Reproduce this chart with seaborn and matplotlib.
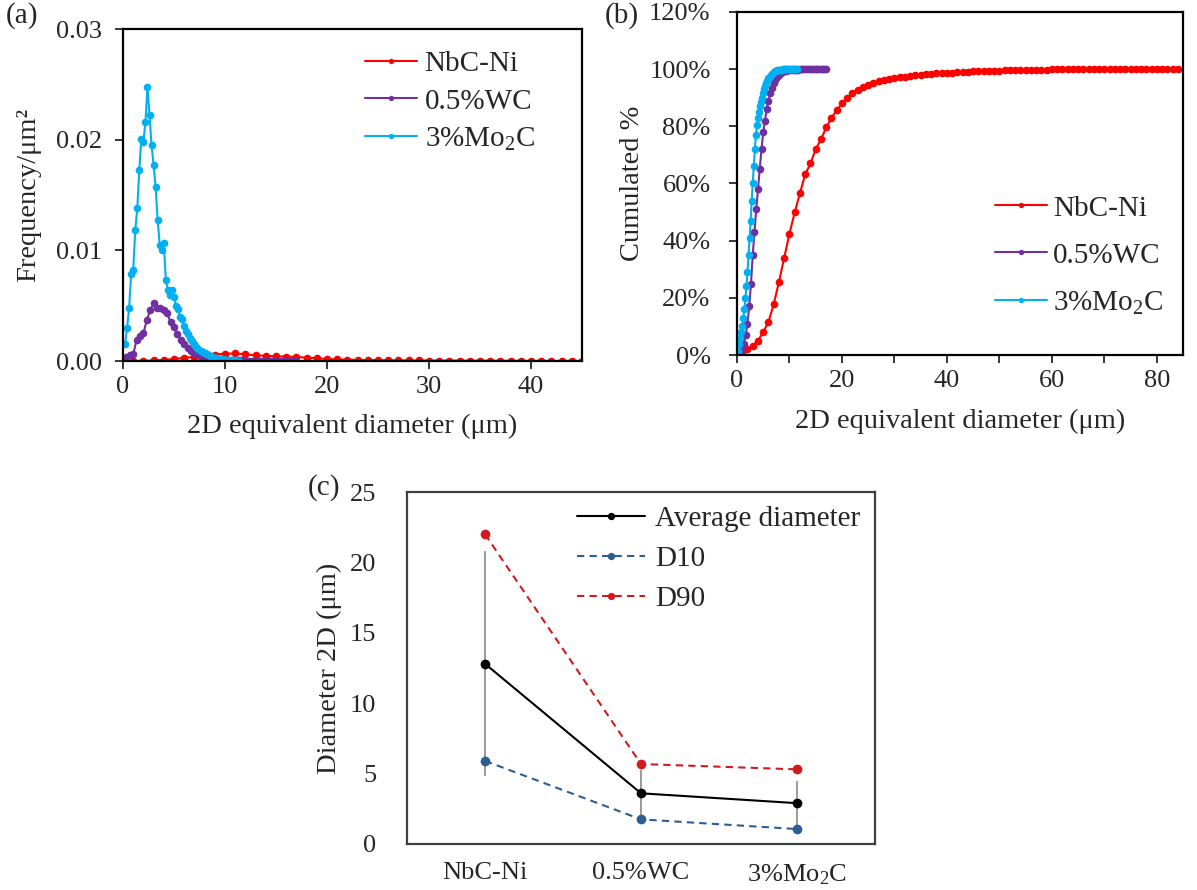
import numpy as np
import pandas as pd
import matplotlib
matplotlib.use("Agg")
import matplotlib.pyplot as plt
import seaborn as sns
from matplotlib.ticker import FuncFormatter, MultipleLocator

# ============================================
# DATA
# ============================================

# NbC-Ni : 1 um bins
red_x = list(range(1, 46))
red_freq = [0.0, 0.00002, 0.00005, 0.0001, 0.00018, 0.00028, 0.00038, 0.00048, 0.00058, 0.00066,
            0.00068, 0.0006, 0.00052, 0.00046, 0.00042, 0.0004, 0.00036, 0.0003, 0.00025, 0.00018,
            0.00015, 0.00012, 0.0001, 0.00009, 0.00008, 0.00007, 0.00006, 0.00005, 0.00005, 0.00004,
            0.00004, 0.00004, 0.00003, 0.00003, 0.00003, 0.00002, 0.00002, 0.00002, 0.00002, 0.00001,
            0.00001, 0.00001, 0.00001, 0.00001, 0.00001]
red_cum_x = list(range(1, 85))
red_cum = [0.8, 2.0, 3.3, 5.0, 8.0, 11.6, 17.8, 25.6, 34.1, 42.5,
           49.9, 56.7, 63.2, 67.0, 72.0, 75.4, 79.6, 83.0, 85.6, 88.0,
           90.0, 91.5, 92.8, 93.8, 94.6, 95.2, 95.7, 96.1, 96.5, 96.8,
           97.1, 97.4, 97.6, 97.8, 98.0, 98.2, 98.3, 98.5, 98.6, 98.7,
           98.8, 98.9, 99.0, 99.1, 99.2, 99.3, 99.35, 99.4, 99.45, 99.5,
           99.55, 99.6, 99.65, 99.7, 99.75, 99.8, 99.82, 99.85, 99.87, 99.9,
           99.9, 99.91, 99.92, 99.93, 99.94, 99.95, 99.95, 99.96, 99.96, 99.97,
           99.97, 99.98, 99.98, 99.98, 99.99, 99.99, 99.99, 99.99, 100, 100,
           100, 100, 100, 100]

# 0.5%WC : 1/3 um bins
wc_x = [0.33, 0.67, 1.0, 1.33, 1.67, 2.0, 2.33, 2.67, 3.0, 3.33,
        3.67, 4.0, 4.33, 4.67, 5.0, 5.33, 5.67, 6.0, 6.33, 6.67,
        7.0, 7.33, 7.67, 8.0, 8.33, 8.67, 9.0, 9.33, 9.67, 10.0,
        10.33, 10.67, 11.0, 11.33, 11.67, 12.0, 12.33, 12.67, 13.0, 13.33,
        13.67, 14.0, 14.33, 14.67, 15.0, 15.33, 15.67, 16.0, 16.33, 16.67, 17.0]
wc_freq = [0.0004, 0.0005, 0.0006, 0.0019, 0.0023, 0.0025, 0.0037, 0.0046, 0.0052, 0.0048,
           0.0048, 0.0046, 0.0043, 0.0035, 0.0031, 0.0024, 0.0019, 0.0015, 0.0012, 0.0009,
           0.0007, 0.0006, 0.0004, 0.0003, 0.0002, 0.0002, 0.00015, 0.0001, 0.0001, 0.0001,
           0.00008, 0.00008, 0.00006, 0.00006, 0.00005, 0.00005, 0.00004, 0.00004, 0.00003, 0.00003,
           0.00003, 0.00002, 0.00002, 0.00002, 0.00002, 0.00001, 0.00001, 0.00001, 0.00001, 0.00001, 0.00001]
wc_cum = [0.5, 1.0, 2.0, 4.0, 7.0, 11, 17, 25, 35, 43,
          51, 58, 65, 72, 78, 82, 86, 89, 91.5, 93.5,
          95, 96.3, 97.3, 98, 98.6, 99, 99.3, 99.5, 99.6, 99.7,
          99.75, 99.8, 99.82, 99.85, 99.87, 99.9, 99.92, 99.93, 99.94, 99.95,
          99.96, 99.97, 99.97, 99.98, 99.98, 99.99, 99.99, 99.99, 100, 100, 100]

# 3%Mo2C : 0.2 um bins
mo_x = [0.2, 0.4, 0.6, 0.8, 1.0, 1.2, 1.4, 1.6, 1.8, 2.0,
        2.2, 2.4, 2.6, 2.8, 3.0, 3.2, 3.4, 3.6, 3.8, 4.0,
        4.2, 4.4, 4.6, 4.8, 5.0, 5.2, 5.4, 5.6, 5.8, 6.0,
        6.2, 6.4, 6.6, 6.8, 7.0, 7.2, 7.4, 7.6, 7.8, 8.0,
        8.2, 8.4, 8.6, 8.8, 9.0, 9.2, 9.4, 9.6, 9.8, 10.0,
        10.2, 10.4, 10.6, 10.8, 11.0, 11.2, 11.4]
mo_freq = [0.0015, 0.003, 0.0048, 0.0079, 0.0082, 0.0118, 0.0138, 0.0173, 0.0201, 0.0198,
           0.0216, 0.0248, 0.0222, 0.0195, 0.0177, 0.0157, 0.0127, 0.0105, 0.01, 0.0107,
           0.0073, 0.0064, 0.006, 0.0064, 0.0058, 0.005, 0.0047, 0.004, 0.0038, 0.0032,
           0.0027, 0.0024, 0.0021, 0.0018, 0.0015, 0.0013, 0.0011, 0.0009, 0.0008, 0.0007,
           0.0006, 0.0005, 0.0004, 0.0004, 0.0003, 0.0003, 0.0002, 0.0002, 0.0002, 0.0001,
           0.0001, 0.0001, 0.0001, 0.00005, 0.00005, 0.00003, 0.00003]
mo_cum = [1.5, 4, 6, 8, 10, 13, 16, 20, 24, 29,
          35, 41, 47, 54, 60, 66, 72, 77, 80.5, 83,
          85, 87, 88.5, 90, 91.5, 93, 94, 95, 96, 96.8,
          97.4, 98, 98.4, 98.8, 99.1, 99.3, 99.5, 99.6, 99.7, 99.75,
          99.8, 99.85, 99.88, 99.9, 99.92, 99.94, 99.95, 99.96, 99.97, 99.98,
          99.98, 99.99, 99.99, 100, 100, 100, 100]

# panel (c)
materials = ['NbC-Ni', '0.5%WC', '3%Mo$_2$C']
avg_diam = [12.8, 3.6, 2.9]
avg_err = [8.0, 1.65, 1.6]
d10 = [5.9, 1.75, 1.06]
d90 = [22.0, 5.68, 5.3]

labels = ['NbC-Ni', '0.5%WC', '3%Mo$_2$C']
colors = ['#FF0000', '#7030A0', '#00B0F0']

# ============================================
# STYLE
# ============================================

sns.set_style("ticks")
plt.rcParams['font.family'] = ['Liberation Serif', 'DejaVu Serif']
plt.rcParams['mathtext.fontset'] = 'custom'
plt.rcParams['mathtext.rm'] = 'Liberation Serif'
plt.rcParams['mathtext.it'] = 'Liberation Serif:italic'

TICK = 19
LAB = 20.5
LEG = 21

fig = plt.figure(figsize=(11.97, 8.9), dpi=100)
W, H = 1197, 890


def rect(l, t, r, b):
    return [l / W, 1 - b / H, (r - l) / W, (b - t) / H]


def frame(ax, color='black', lw=1.6):
    for s in ax.spines.values():
        s.set_visible(True)
        s.set_color(color)
        s.set_linewidth(lw)


# ============================================
# (a) FREQUENCY
# ============================================

ax1 = fig.add_axes(rect(123, 29, 582, 361))
for xs, ys, c, lab in [(red_x, red_freq, colors[0], labels[0]),
                       (wc_x, wc_freq, colors[1], labels[1]),
                       (mo_x, mo_freq, colors[2], labels[2])]:
    sns.lineplot(x=xs, y=ys, ax=ax1, color=c, label=lab, marker='o',
                 markersize=5.5, markeredgewidth=0, linewidth=1.5)
ax1.set_xlim(0, 45)
ax1.set_ylim(0, 0.03)
ax1.xaxis.set_major_locator(MultipleLocator(10))
ax1.yaxis.set_major_locator(MultipleLocator(0.01))
ax1.yaxis.set_major_formatter(FuncFormatter(lambda v, p: f'{v:.2f}'))
ax1.tick_params(direction='out', length=6, width=1.3, labelsize=TICK)
ax1.tick_params(axis='y', pad=9)
ax1.tick_params(axis='x', pad=5)
ax1.set_xlabel('2D equivalent diameter (μm)', fontsize=LAB, labelpad=11)
ax1.set_ylabel('Frequency/μm²', fontsize=LAB, labelpad=11)
frame(ax1)
ax1.legend(loc='upper left', bbox_to_anchor=(0.527, 0.934), frameon=False,
           handlelength=1.8, handletextpad=0.25, labelspacing=0.37,
           borderpad=0, borderaxespad=0, fontsize=LEG, markerscale=0.7)

# ============================================
# (b) CUMULATIVE
# ============================================

ax2 = fig.add_axes(rect(737, 12, 1183, 355))
for xs, ys, c, lab in [(red_cum_x, red_cum, colors[0], labels[0]),
                       (wc_x, wc_cum, colors[1], labels[1]),
                       (mo_x, mo_cum, colors[2], labels[2])]:
    sns.lineplot(x=xs, y=ys, ax=ax2, color=c, label=lab, marker='o',
                 markersize=5.5, markeredgewidth=0, linewidth=1.5)
ax2.set_xlim(0, 85)
ax2.set_ylim(0, 120)
ax2.xaxis.set_major_locator(MultipleLocator(10))
ax2.xaxis.set_major_formatter(FuncFormatter(lambda v, p: f'{v:.0f}' if round(v) % 20 == 0 else ''))
ax2.yaxis.set_major_locator(MultipleLocator(20))
ax2.yaxis.set_major_formatter(FuncFormatter(lambda v, p: f'{v:.0f}%'))
ax2.tick_params(direction='out', length=6, width=1.3, labelsize=TICK)
ax2.tick_params(axis='y', pad=13)
ax2.tick_params(axis='x', pad=5)
ax2.set_xlabel('2D equivalent diameter (μm)', fontsize=LAB, labelpad=12)
ax2.set_ylabel('Cumulated %', fontsize=LAB, labelpad=3)
frame(ax2)
ax2.legend(loc='upper left', bbox_to_anchor=(0.578, 0.466), frameon=False,
           handlelength=1.8, handletextpad=0.2, labelspacing=0.71,
           borderpad=0, borderaxespad=0, fontsize=LEG, markerscale=0.7)

# ============================================
# (c) DIAMETERS
# ============================================

ax3 = fig.add_axes(rect(407, 492, 875, 844))
df_c = pd.DataFrame({'Material': materials, 'Average': avg_diam, 'D10': d10, 'D90': d90})

ax3.errorbar(df_c['Material'], df_c['Average'], yerr=avg_err, fmt='none',
             ecolor='#7F7F7F', elinewidth=1.1, capsize=0, zorder=1)
sns.lineplot(data=df_c, x='Material', y='Average', ax=ax3, color='black',
             marker='o', markersize=7, markeredgewidth=0, linewidth=1.5,
             label='Average diameter', sort=False)
sns.lineplot(data=df_c, x='Material', y='D10', ax=ax3, color='#2B5F91',
             marker='o', markersize=7, markeredgewidth=0, linewidth=1.5,
             linestyle=(0, (3.5, 2.5)), label='D10', sort=False)
sns.lineplot(data=df_c, x='Material', y='D90', ax=ax3, color='#D2191E',
             marker='o', markersize=7, markeredgewidth=0, linewidth=1.5,
             linestyle=(0, (3.5, 2.5)), label='D90', sort=False)
ax3.set_xlim(-0.5, 2.5)
ax3.set_ylim(0, 25)
ax3.yaxis.set_major_locator(MultipleLocator(5))
ax3.tick_params(length=0, labelsize=TICK)
ax3.tick_params(axis='y', pad=22)
ax3.tick_params(axis='x', pad=13)
ax3.set_xlabel('')
ax3.set_ylabel('Diameter 2D (μm)', fontsize=LAB, labelpad=6)
frame(ax3, color='#404040', lw=1.6)
ax3.legend(loc='upper left', bbox_to_anchor=(0.363, 0.96), frameon=False,
           handlelength=2.33, handletextpad=0.34, labelspacing=0.46,
           borderpad=0, borderaxespad=0, fontsize=LEG, markerscale=0.75)

# panel labels
fig.text(6 / W, 1 - 2 / H, '(a)', fontsize=LEG, va='top', ha='left')
fig.text(605 / W, 1 - 2 / H, '(b)', fontsize=LEG, va='top', ha='left')
fig.text(308 / W, 1 - 474 / H, '(c)', fontsize=LEG, va='top', ha='left')

fig.savefig('out.png', dpi=100)
